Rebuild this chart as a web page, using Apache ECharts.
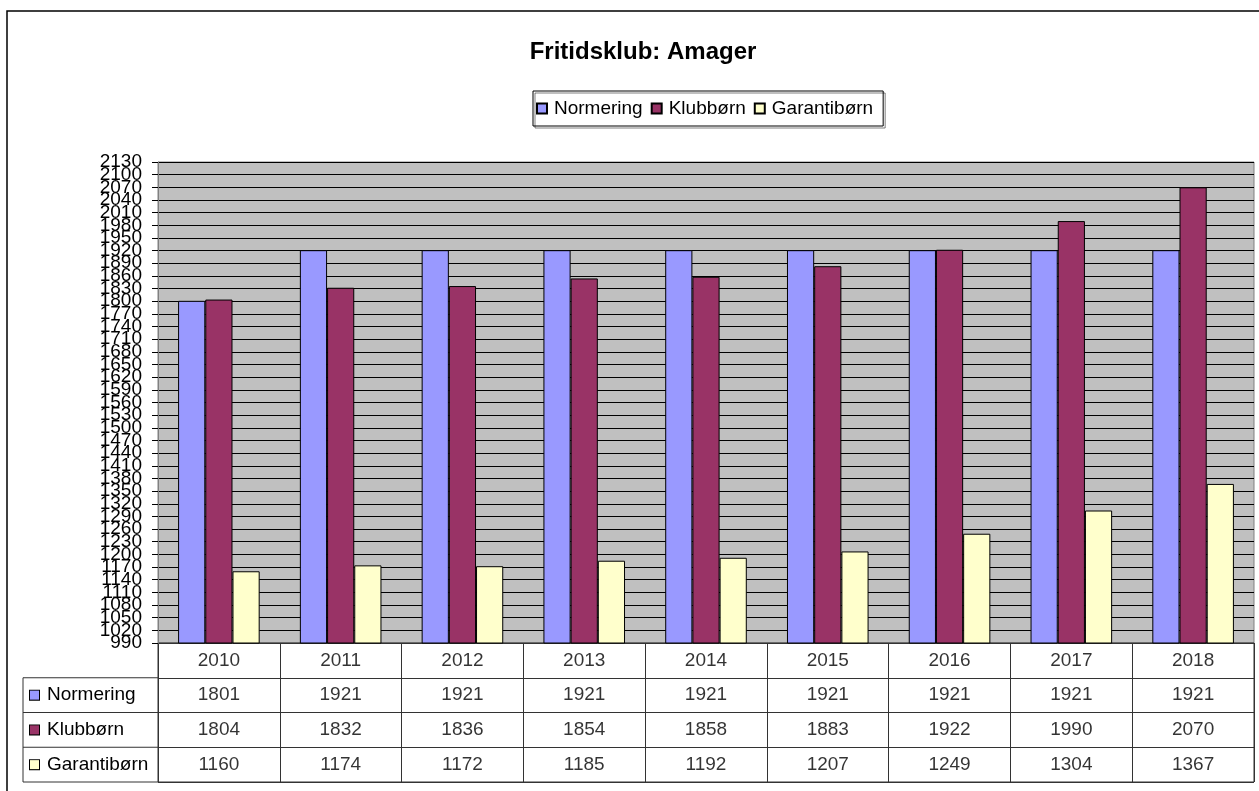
<!DOCTYPE html>
<html>
<head>
<meta charset="utf-8">
<script src="https://cdn.jsdelivr.net/npm/echarts@6/dist/echarts.min.js"></script>
<style>
  html, body { margin: 0; padding: 0; background: #fff; }
  #main { width: 1259px; height: 791px; }
</style>
</head>
<body>
<div id="main"></div>
<script>
var years = ['2010', '2011', '2012', '2013', '2014', '2015', '2016', '2017', '2018'];
var seriesNames = ['Normering', 'Klubbørn', 'Garantibørn'];
var normering = [1801, 1921, 1921, 1921, 1921, 1921, 1921, 1921, 1921];
var klubborn = [1804, 1832, 1836, 1854, 1858, 1883, 1922, 1990, 2070];
var garantiborn = [1160, 1174, 1172, 1185, 1192, 1207, 1249, 1304, 1367];
var colors = ['#9999FF', '#993366', '#FFFFCC'];
var yMin = 990, yMax = 2130, yStep = 30;

drawChart();

function drawChart() {
    var myChart = echarts.init(document.getElementById('main'));
    var font = 'Liberation Sans, Arial, sans-serif';

    // layout of the plot and the data table below it
    var plotLeft = 158, plotTop = 162, plotW = 1096, plotH = 481;
    var tabTop = plotTop + plotH, tabH = 139, rowH = tabH / 4, colLeft = 23;

    var values = [normering, klubborn, garantiborn];
    var rows = [''].concat(seriesNames);

    // text cells of the table
    var cells = [];
    years.forEach(function (y, i) {
        cells.push({ value: [i, 0], label: { formatter: y } });
        values.forEach(function (arr, s) {
            cells.push({ value: [i, s + 1], label: { formatter: String(arr[i]) } });
        });
    });

    var rich = { t: { fontSize: 19, fontFamily: font, color: '#000', padding: [0, 0, 0, 8] } };
    seriesNames.forEach(function (n, s) {
        rich['b' + s] = { width: 9, height: 9, backgroundColor: colors[s], borderColor: '#000', borderWidth: 1 };
    });

    var leftLines = [];
    for (var r = 1; r <= 4; r++) {
        leftLines.push({
            type: 'line',
            shape: { x1: colLeft, y1: tabTop + r * rowH, x2: plotLeft, y2: tabTop + r * rowH },
            style: { stroke: '#333', lineWidth: 1 }
        });
    }
    leftLines.push({
        type: 'line',
        shape: { x1: colLeft, y1: tabTop + rowH, x2: colLeft, y2: tabTop + tabH },
        style: { stroke: '#333', lineWidth: 1 }
    });
    leftLines.push({
        type: 'rect',
        shape: { x: 7, y: 11, width: 1270, height: 800 },
        style: { fill: 'none', stroke: '#000', lineWidth: 1.5 }
    });

    var yLabel = { color: '#000', fontFamily: font, fontSize: 19, margin: 16 };

    option = {
        backgroundColor: '#fff',
        animation: false,
        title: {
            text: 'Fritidsklub: Amager',
            left: 638,
            textAlign: 'center',
            top: 35,
            textStyle: { fontFamily: font, fontSize: 24, fontWeight: 'bold', color: '#000' }
        },
        legend: {
            data: seriesNames,
            left: 533,
            top: 91,
            padding: [8, 10, 8, 3],
            borderColor: '#000',
            borderWidth: 1,
            shadowColor: 'rgba(0,0,0,0.5)',
            shadowOffsetX: 2,
            shadowOffsetY: 2,
            itemWidth: 10,
            itemHeight: 10,
            itemGap: 8,
            icon: 'rect',
            textStyle: { fontFamily: font, fontSize: 19, color: '#000', padding: [0, 0, 0, 2] }
        },
        grid: [
            {
                left: plotLeft, top: plotTop, width: plotW, height: plotH,
                show: true, backgroundColor: '#C0C0C0', borderColor: '#808080', borderWidth: 1
            },
            {
                left: plotLeft, top: tabTop, width: plotW, height: tabH,
                show: true, backgroundColor: '#fff', borderColor: '#333', borderWidth: 1
            }
        ],
        xAxis: [
            {
                type: 'category', gridIndex: 0, data: years,
                axisLine: { show: false }, axisTick: { show: false }, axisLabel: { show: false }
            },
            {
                type: 'category', gridIndex: 1, data: years,
                axisLine: { show: false }, axisTick: { show: false }, axisLabel: { show: false },
                splitLine: { show: true, lineStyle: { color: '#333', width: 1 } }
            }
        ],
        yAxis: [
            {
                type: 'value', gridIndex: 0, min: yMin, max: yMax, interval: yStep,
                axisLine: { show: true, lineStyle: { color: '#808080' } },
                axisTick: { show: true, length: 6, lineStyle: { color: '#000' } },
                axisLabel: Object.assign({
                    showMinLabel: false, showMaxLabel: false,
                    formatter: function (v) { return String(v); }
                }, yLabel),
                splitLine: { show: true, lineStyle: { color: '#000', width: 1 } }
            },
            {
                type: 'category', gridIndex: 1, data: rows, inverse: true,
                axisLine: { show: false }, axisTick: { show: false },
                splitLine: { show: true, lineStyle: { color: '#333', width: 1 } },
                axisLabel: {
                    align: 'left',
                    margin: plotLeft - 30,
                    formatter: function (v, i) {
                        if (!v) return '';
                        return '{b' + (i - 1) + '|}{t|' + v + '}';
                    },
                    rich: rich
                }
            },
            {
                // same scale, only carries the end labels that the first axis drops
                type: 'value', gridIndex: 0, position: 'left', min: yMin, max: yMax, interval: yStep,
                axisLine: { show: false }, axisTick: { show: true, length: 6, lineStyle: { color: '#000' } },
                splitLine: { show: false },
                axisLabel: Object.assign({
                    showMinLabel: true, showMaxLabel: true,
                    formatter: function (v) { return (v === yMin || v === yMax) ? String(v) : ''; }
                }, yLabel)
            }
        ],
        series: seriesNames.map(function (n, s) {
            return {
                name: n,
                type: 'bar',
                xAxisIndex: 0,
                yAxisIndex: 0,
                data: values[s],
                barGap: '0%',
                barCategoryGap: '33%',
                itemStyle: { color: colors[s], borderColor: '#000', borderWidth: 1 }
            };
        }).concat([{
            name: 'table',
            type: 'scatter',
            xAxisIndex: 1,
            yAxisIndex: 1,
            symbolSize: 0,
            silent: true,
            data: cells,
            label: {
                show: true,
                position: 'inside',
                color: '#000',
                fontFamily: font,
                fontSize: 19
            }
        }]),
        graphic: leftLines
    };

    myChart.setOption(option);
}
</script>
</body>
</html>
